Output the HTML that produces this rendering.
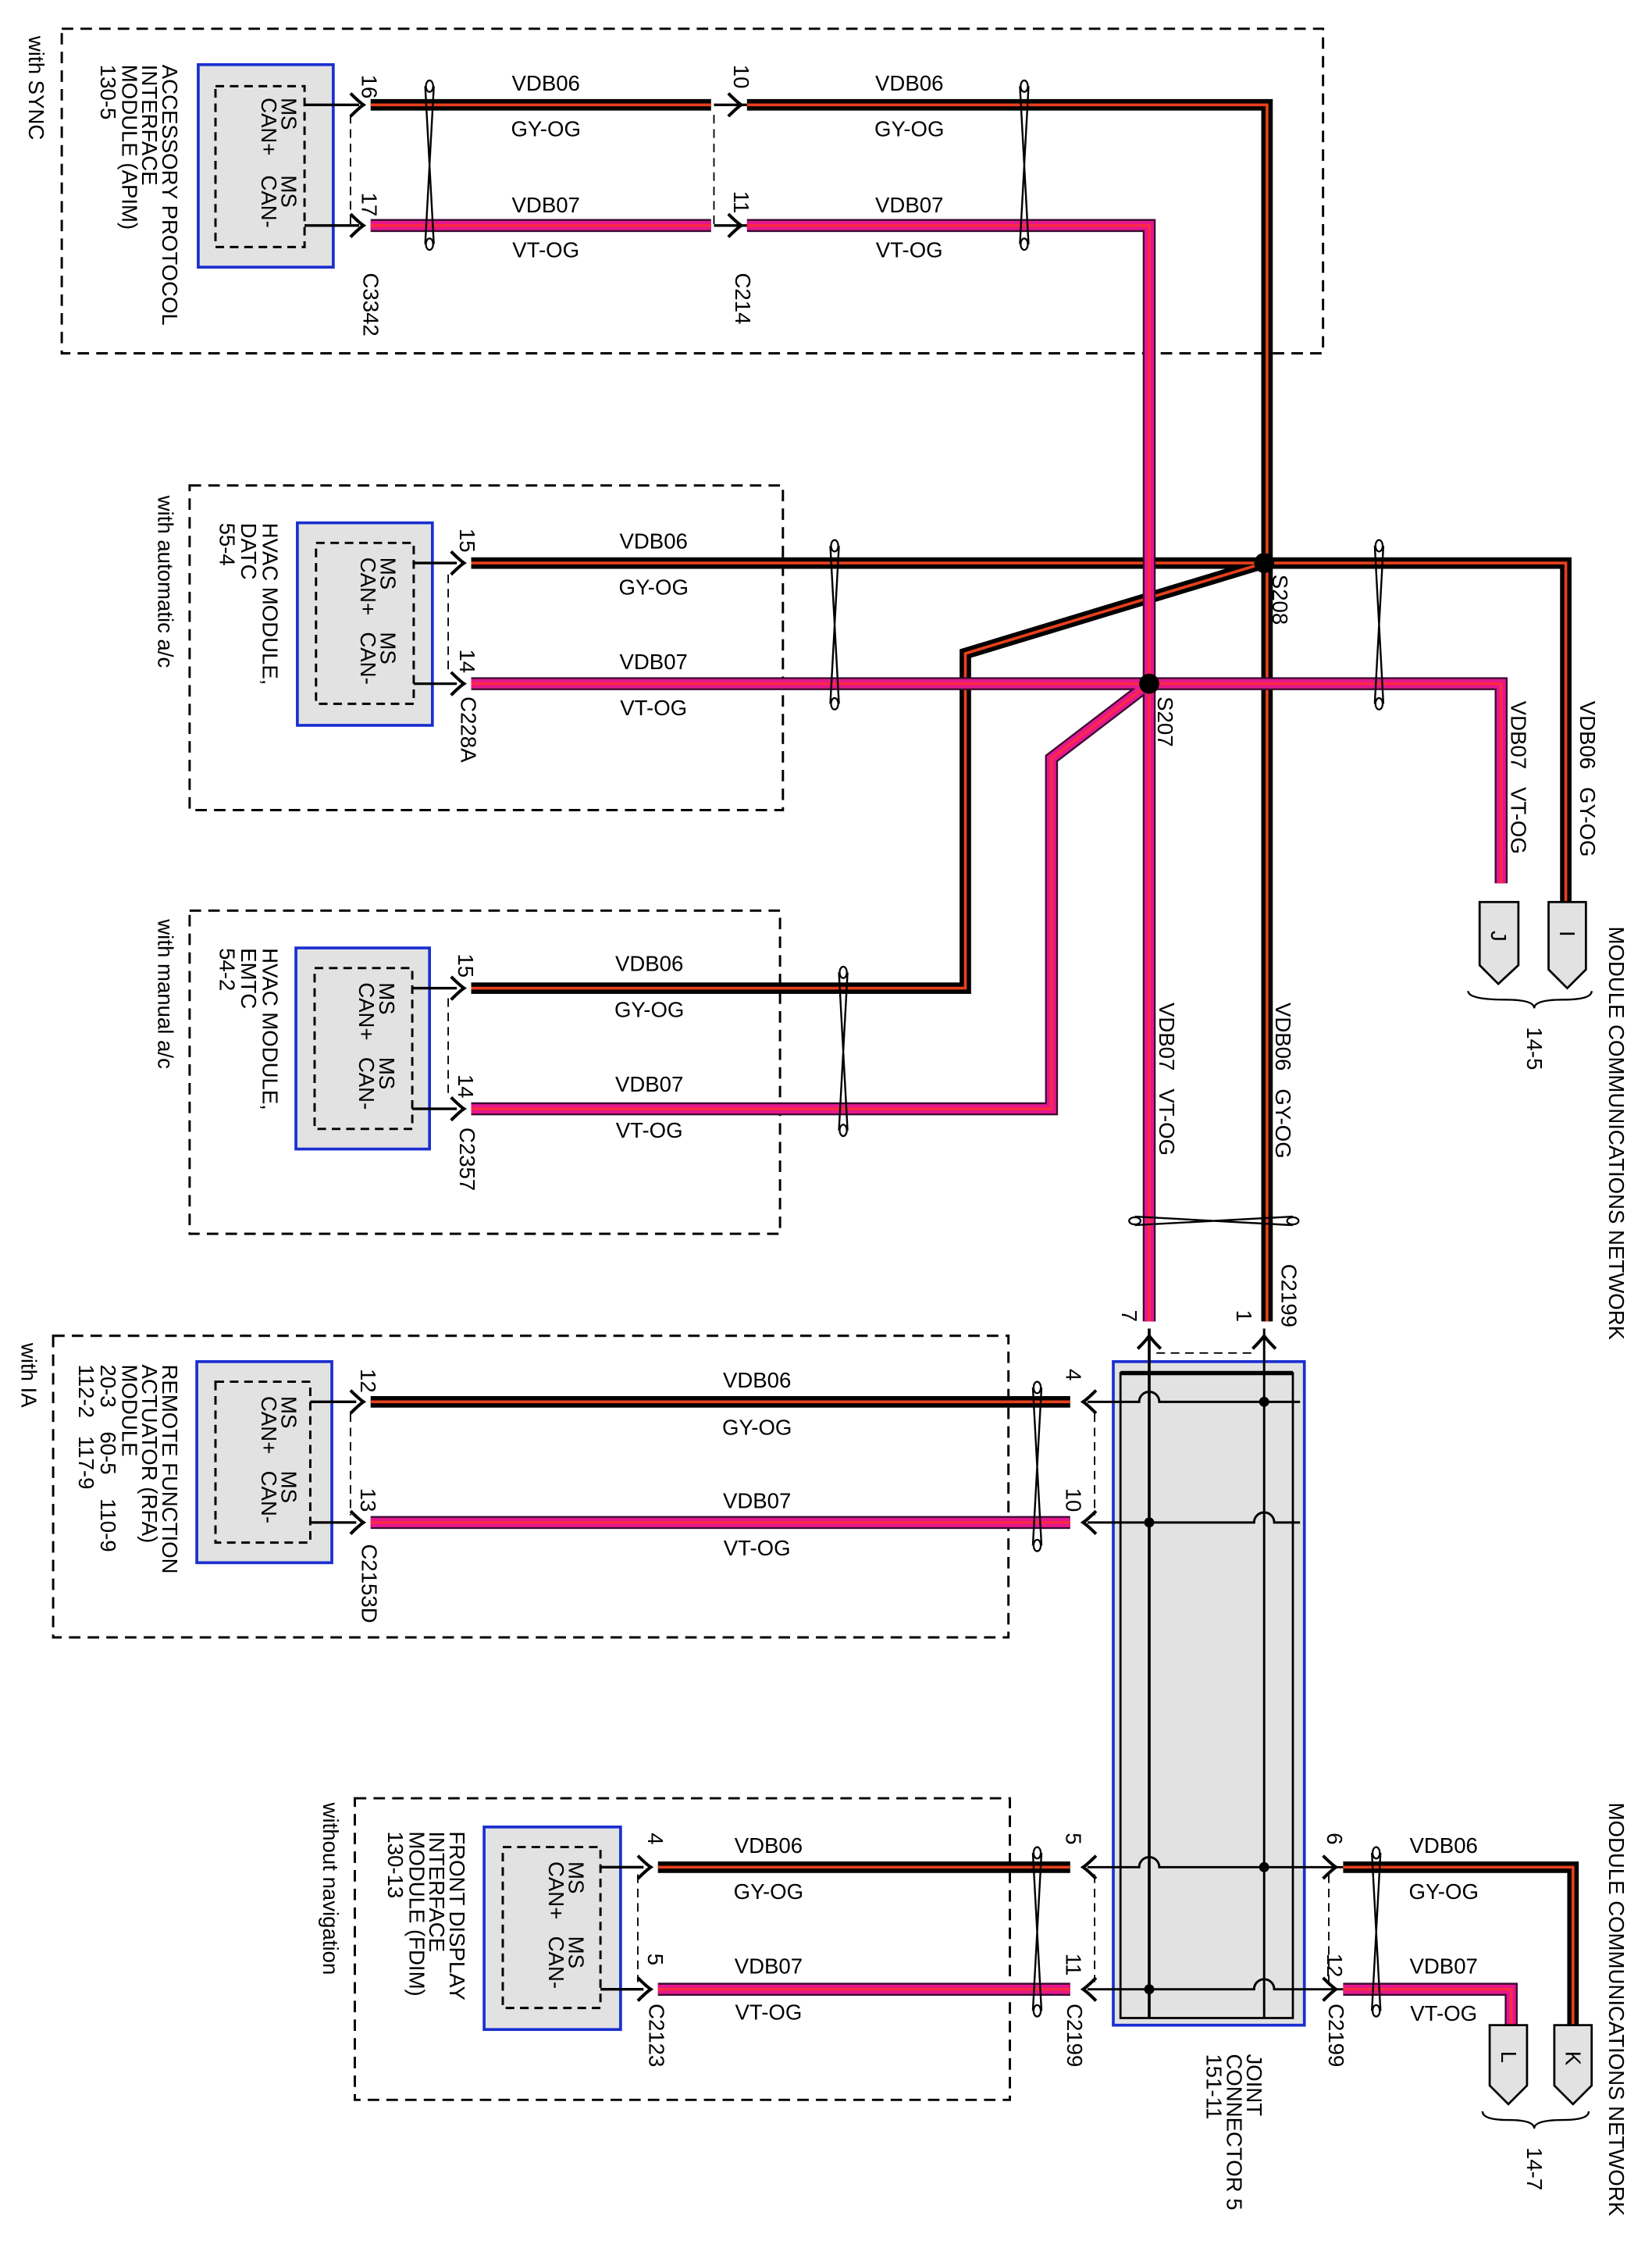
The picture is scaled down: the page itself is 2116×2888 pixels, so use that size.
<!DOCTYPE html>
<html><head><meta charset="utf-8"><style>
html,body{margin:0;padding:0;background:#fff;}
svg{display:block;}
text{font-family:"Liberation Sans",sans-serif;fill:#000;}
</style></head><body>
<svg width="2116" height="2888" viewBox="0 0 1150 1570" preserveAspectRatio="none" xmlns="http://www.w3.org/2000/svg">
<defs>
<g id="tw"><path d="M-3 0 L3 110 M3 0 L-3 110" stroke="#000" stroke-width="1.3" fill="none"/><ellipse cx="0" cy="0" rx="2.5" ry="4" fill="#fff" stroke="#000" stroke-width="1.2"/><ellipse cx="0" cy="110" rx="2.5" ry="4" fill="#fff" stroke="#000" stroke-width="1.2"/></g>
<path id="ar" d="M-6 -8 Q0 -2 3 0 Q0 2 -6 8" stroke="#000" stroke-width="2.2" fill="none"/>
<path id="al" d="M6 -8 Q0 -2 -3 0 Q0 2 6 8" stroke="#000" stroke-width="2.2" fill="none"/>
</defs>
<g fill="none" stroke="#000" stroke-width="1.6" stroke-dasharray="8,5">
<rect x="43" y="20" width="878" height="226"/>
<rect x="132" y="338" width="413" height="226"/>
<rect x="132" y="634" width="411" height="225"/>
<rect x="37" y="930" width="665" height="210"/>
<rect x="247" y="1252" width="456" height="210"/>
</g>
<g fill="none" stroke="#000" stroke-width="1" stroke-dasharray="6,4">
<line x1="244" y1="80" x2="244" y2="160"/><line x1="497" y1="80" x2="497" y2="160"/>
<line x1="312" y1="400" x2="312" y2="470"/><line x1="312" y1="695" x2="312" y2="765"/>
<line x1="244" y1="984" x2="244" y2="1055"/><line x1="444" y1="1305" x2="444" y2="1380"/>
<line x1="762" y1="984" x2="762" y2="1055"/><line x1="762" y1="1305" x2="762" y2="1380"/>
<line x1="925" y1="1305" x2="925" y2="1380"/><line x1="805" y1="942" x2="875" y2="942"/>
</g>
<g fill="#e2e2e2" stroke="#1a2fd0" stroke-width="2">
<rect x="138" y="45" width="94" height="141"/><rect x="207" y="364" width="94" height="141"/>
<rect x="206" y="660" width="93" height="140"/><rect x="137" y="948" width="94" height="140"/>
<rect x="337" y="1272" width="95" height="141"/>
<rect x="775" y="948" width="133" height="462"/>
</g>
<g fill="none" stroke="#000" stroke-width="1.6" stroke-dasharray="6,4">
<rect x="150" y="60" width="62" height="112"/><rect x="220" y="378" width="68" height="112"/>
<rect x="219" y="674" width="68" height="112"/><rect x="150" y="962" width="66" height="112"/>
<rect x="350" y="1286" width="68" height="112"/>
</g>
<rect x="780" y="956" width="120" height="449" fill="none" stroke="#000" stroke-width="1.5"/>
<line x1="780" y1="956" x2="900" y2="956" stroke="#000" stroke-width="3"/>
<g stroke="#000" stroke-width="1.8">
<path d="M212 73H250M212 157H250M288 392H318M288 476H318M287 688H318M287 772H318M216 976H248M216 1060H248M418 1300H448M418 1385H448M497 73H520M497 157H520"/>
</g>
<g>
<use href="#ar" x="250" y="73"/><use href="#ar" x="250" y="157"/><use href="#ar" x="513" y="73"/><use href="#ar" x="513" y="157"/>
<use href="#ar" x="320" y="392"/><use href="#ar" x="320" y="476"/><use href="#ar" x="320" y="688"/><use href="#ar" x="320" y="772"/>
<use href="#ar" x="250" y="976"/><use href="#ar" x="250" y="1060"/><use href="#ar" x="450" y="1300"/><use href="#ar" x="450" y="1385"/>
<use href="#al" x="757" y="976"/><use href="#al" x="757" y="1060"/><use href="#al" x="757" y="1300"/><use href="#al" x="757" y="1385"/>
<use href="#ar" x="927" y="1300"/><use href="#ar" x="927" y="1385"/>
<use href="#ar" transform="translate(800 933) rotate(-90)"/><use href="#ar" transform="translate(880 933) rotate(-90)"/>
</g>
<g stroke="#000" fill="none" stroke-width="1.6">
<line x1="800" y1="925" x2="800" y2="1405" stroke-width="2"/><line x1="880" y1="925" x2="880" y2="1405"/>
<path d="M757 976H793 A7 7 0 0 1 807 976 H905"/>
<path d="M757 1060H873 A7 7 0 0 1 887 1060 H905"/>
<path d="M757 1300H793 A7 7 0 0 1 807 1300 H935"/>
<path d="M757 1385H873 A7 7 0 0 1 887 1385 H935"/>
</g>
<g fill="#000"><circle cx="880" cy="976" r="3.5"/><circle cx="800" cy="1060" r="3.5"/><circle cx="880" cy="1300" r="3.5"/><circle cx="800" cy="1385" r="3.5"/></g>
<g fill="none" stroke-linejoin="miter">
<g stroke="#000" stroke-width="8">
<path d="M258 73H495"/><path d="M520 73H882V920"/><path d="M328 392H1090V628"/><path d="M880 392L672 455V688H328"/>
<path d="M258 976H745"/><path d="M458 1300H745"/><path d="M935 1300H1095V1410"/>
</g>
<g stroke="#e8401c" stroke-width="2">
<path d="M258 73H495"/><path d="M520 73H882V920"/><path d="M328 392H1090V628"/><path d="M880 392L672 455V688H328"/>
<path d="M258 976H745"/><path d="M458 1300H745"/><path d="M935 1300H1095V1410"/>
</g>
<g stroke="#3a0a30" stroke-width="9">
<path d="M258 157H495"/><path d="M520 157H800V920"/><path d="M328 476H1045V615"/><path d="M800 476L732 528V772H328"/>
<path d="M258 1060H745"/><path d="M458 1385H745"/><path d="M935 1385H1052V1410"/>
</g>
<g stroke="#e4188c" stroke-width="6.5">
<path d="M258 157H495"/><path d="M520 157H800V920"/><path d="M328 476H1045V615"/><path d="M800 476L732 528V772H328"/>
<path d="M258 1060H745"/><path d="M458 1385H745"/><path d="M935 1385H1052V1410"/>
</g>
<g stroke="#ff2a40" stroke-width="1.8">
<path d="M258 157H495"/><path d="M520 157H800V920"/><path d="M328 476H1045V615"/><path d="M800 476L732 528V772H328"/>
<path d="M258 1060H745"/><path d="M458 1385H745"/><path d="M935 1385H1052V1410"/>
</g>
</g>
<circle cx="880" cy="392" r="7" fill="#000"/><circle cx="800" cy="476" r="7" fill="#000"/>
<use href="#tw" x="299" y="60"/><use href="#tw" x="713" y="60"/><use href="#tw" x="581" y="380"/><use href="#tw" x="960" y="380"/>
<use href="#tw" x="587" y="677"/><use href="#tw" x="722" y="966"/><use href="#tw" x="722" y="1290"/><use href="#tw" x="958" y="1290"/>
<use href="#tw" transform="translate(790 850) rotate(-90)"/>
<g fill="#e2e2e2" stroke="#000" stroke-width="1.5">
<path d="M1078 628H1104V675L1091 688L1078 675Z"/><path d="M1030 628H1057V672L1043 685L1030 672Z"/>
<path d="M1082 1410H1108V1452L1095 1465L1082 1452Z"/><path d="M1037 1410H1063V1452L1050 1465L1037 1452Z"/>
</g>
<g fill="none" stroke="#000" stroke-width="1.3"><path d="M1022 690Q1022 696 1048 696Q1068 696 1068 702Q1068 696 1088 696Q1108 696 1108 690"/><path d="M1032 1470Q1032 1476 1050 1476Q1068 1476 1068 1482Q1068 1476 1088 1476Q1106 1476 1106 1470"/></g>
<g font-size="15" text-anchor="middle">
<text x="380" y="63">VDB06</text><text x="380" y="95">GY-OG</text><text x="380" y="148">VDB07</text><text x="380" y="179">VT-OG</text>
<text x="633" y="63">VDB06</text><text x="633" y="95">GY-OG</text><text x="633" y="148">VDB07</text><text x="633" y="179">VT-OG</text>
<text x="455" y="382">VDB06</text><text x="455" y="414">GY-OG</text><text x="455" y="466">VDB07</text><text x="455" y="498">VT-OG</text>
<text x="452" y="676">VDB06</text><text x="452" y="708">GY-OG</text><text x="452" y="760">VDB07</text><text x="452" y="792">VT-OG</text>
<text x="527" y="966">VDB06</text><text x="527" y="999">GY-OG</text><text x="527" y="1050">VDB07</text><text x="527" y="1083">VT-OG</text>
<text x="535" y="1290">VDB06</text><text x="535" y="1322">GY-OG</text><text x="535" y="1374">VDB07</text><text x="535" y="1406">VT-OG</text>
<text x="1005" y="1290">VDB06</text><text x="1005" y="1322">GY-OG</text><text x="1005" y="1374">VDB07</text><text x="1005" y="1407">VT-OG</text>
</g>
<g font-size="15">
<text transform="translate(20 25) rotate(90)">with SYNC</text>
<text transform="translate(113 45) rotate(90)">ACCESSORY PROTOCOL</text>
<text transform="translate(99 45) rotate(90)">INTERFACE</text>
<text transform="translate(85 45) rotate(90)">MODULE (APIM)</text>
<text transform="translate(70 45) rotate(90)">130-5</text>
<text transform="translate(110 345) rotate(90)">with automatic a/c</text>
<text transform="translate(183 364) rotate(90)">HVAC MODULE,</text>
<text transform="translate(168 364) rotate(90)">DATC</text>
<text transform="translate(153 364) rotate(90)">55-4</text>
<text transform="translate(110 640) rotate(90)">with manual a/c</text>
<text transform="translate(183 660) rotate(90)">HVAC MODULE,</text>
<text transform="translate(168 660) rotate(90)">EMTC</text>
<text transform="translate(153 660) rotate(90)">54-2</text>
<text transform="translate(15 935) rotate(90)">with IA</text>
<text transform="translate(113 950) rotate(90)">REMOTE FUNCTION</text>
<text transform="translate(99 950) rotate(90)">ACTUATOR (RFA)</text>
<text transform="translate(85 950) rotate(90)">MODULE</text>
<text transform="translate(70 950) rotate(90)" xml:space="preserve">20-3    60-5    110-9</text>
<text transform="translate(55 950) rotate(90)" xml:space="preserve">112-2   117-9</text>
<text transform="translate(225 1255) rotate(90)">without navigation</text>
<text transform="translate(313 1275) rotate(90)">FRONT DISPLAY</text>
<text transform="translate(299 1275) rotate(90)">INTERFACE</text>
<text transform="translate(285 1275) rotate(90)">MODULE (FDIM)</text>
<text transform="translate(270 1275) rotate(90)">130-13</text>
<text transform="translate(868 1430) rotate(90)">JOINT</text>
<text transform="translate(854 1430) rotate(90)">CONNECTOR 5</text>
<text transform="translate(840 1430) rotate(90)">151-11</text>
<text transform="translate(1120 645) rotate(90)">MODULE COMMUNICATIONS NETWORK</text>
<text transform="translate(1120 1255) rotate(90)">MODULE COMMUNICATIONS NETWORK</text>
<text transform="translate(1063 715) rotate(90)">14-5</text>
<text transform="translate(1063 1495) rotate(90)">14-7</text>
<text transform="translate(1100 488) rotate(90)" xml:space="preserve">VDB06   GY-OG</text>
<text transform="translate(1052 488) rotate(90)" xml:space="preserve">VDB07   VT-OG</text>
<text transform="translate(888 698) rotate(90)" xml:space="preserve">VDB06   GY-OG</text>
<text transform="translate(807 698) rotate(90)" xml:space="preserve">VDB07   VT-OG</text>
<text transform="translate(253 190) rotate(90)">C3342</text>
<text transform="translate(512 190) rotate(90)">C214</text>
<text transform="translate(886 400) rotate(90)">S208</text>
<text transform="translate(806 485) rotate(90)">S207</text>
<text transform="translate(321 485) rotate(90)">C228A</text>
<text transform="translate(320 785) rotate(90)">C2357</text>
<text transform="translate(892 880) rotate(90)">C2199</text>
<text transform="translate(252 1075) rotate(90)">C2153D</text>
<text transform="translate(452 1395) rotate(90)">C2123</text>
<text transform="translate(743 1395) rotate(90)">C2199</text>
<text transform="translate(925 1395) rotate(90)">C2199</text>
<text transform="translate(196 68) rotate(90)">MS</text><text transform="translate(182 68) rotate(90)">CAN+</text>
<text transform="translate(196 122) rotate(90)">MS</text><text transform="translate(182 122) rotate(90)">CAN-</text>
<text transform="translate(265 388) rotate(90)">MS</text><text transform="translate(251 388) rotate(90)">CAN+</text>
<text transform="translate(265 440) rotate(90)">MS</text><text transform="translate(251 440) rotate(90)">CAN-</text>
<text transform="translate(264 684) rotate(90)">MS</text><text transform="translate(250 684) rotate(90)">CAN+</text>
<text transform="translate(264 736) rotate(90)">MS</text><text transform="translate(250 736) rotate(90)">CAN-</text>
<text transform="translate(196 972) rotate(90)">MS</text><text transform="translate(182 972) rotate(90)">CAN+</text>
<text transform="translate(196 1024) rotate(90)">MS</text><text transform="translate(182 1024) rotate(90)">CAN-</text>
<text transform="translate(396 1296) rotate(90)">MS</text><text transform="translate(382 1296) rotate(90)">CAN+</text>
<text transform="translate(396 1348) rotate(90)">MS</text><text transform="translate(382 1348) rotate(90)">CAN-</text>
<text transform="translate(1086 648) rotate(90)">I</text><text transform="translate(1038 648) rotate(90)">J</text>
<text transform="translate(1090 1428) rotate(90)">K</text><text transform="translate(1045 1428) rotate(90)">L</text>
</g>
<g font-size="15">
<text transform="translate(252 52) rotate(90)">16</text><text transform="translate(252 134) rotate(90)">17</text>
<text transform="translate(511 45) rotate(90)">10</text><text transform="translate(511 133) rotate(90)">11</text>
<text transform="translate(320 368) rotate(90)">15</text><text transform="translate(320 452) rotate(90)">14</text>
<text transform="translate(319 664) rotate(90)">15</text><text transform="translate(319 748) rotate(90)">14</text>
<text transform="translate(251 953) rotate(90)">12</text><text transform="translate(251 1036) rotate(90)">13</text>
<text transform="translate(451 1276) rotate(90)">4</text><text transform="translate(451 1360) rotate(90)">5</text>
<text transform="translate(742 953) rotate(90)">4</text><text transform="translate(742 1036) rotate(90)">10</text>
<text transform="translate(742 1276) rotate(90)">5</text><text transform="translate(742 1360) rotate(90)">11</text>
<text transform="translate(924 1276) rotate(90)">6</text><text transform="translate(924 1360) rotate(90)">12</text>
<text transform="translate(861 912) rotate(90)">1</text><text transform="translate(781 912) rotate(90)">7</text>
</g>
</svg>
</body></html>
